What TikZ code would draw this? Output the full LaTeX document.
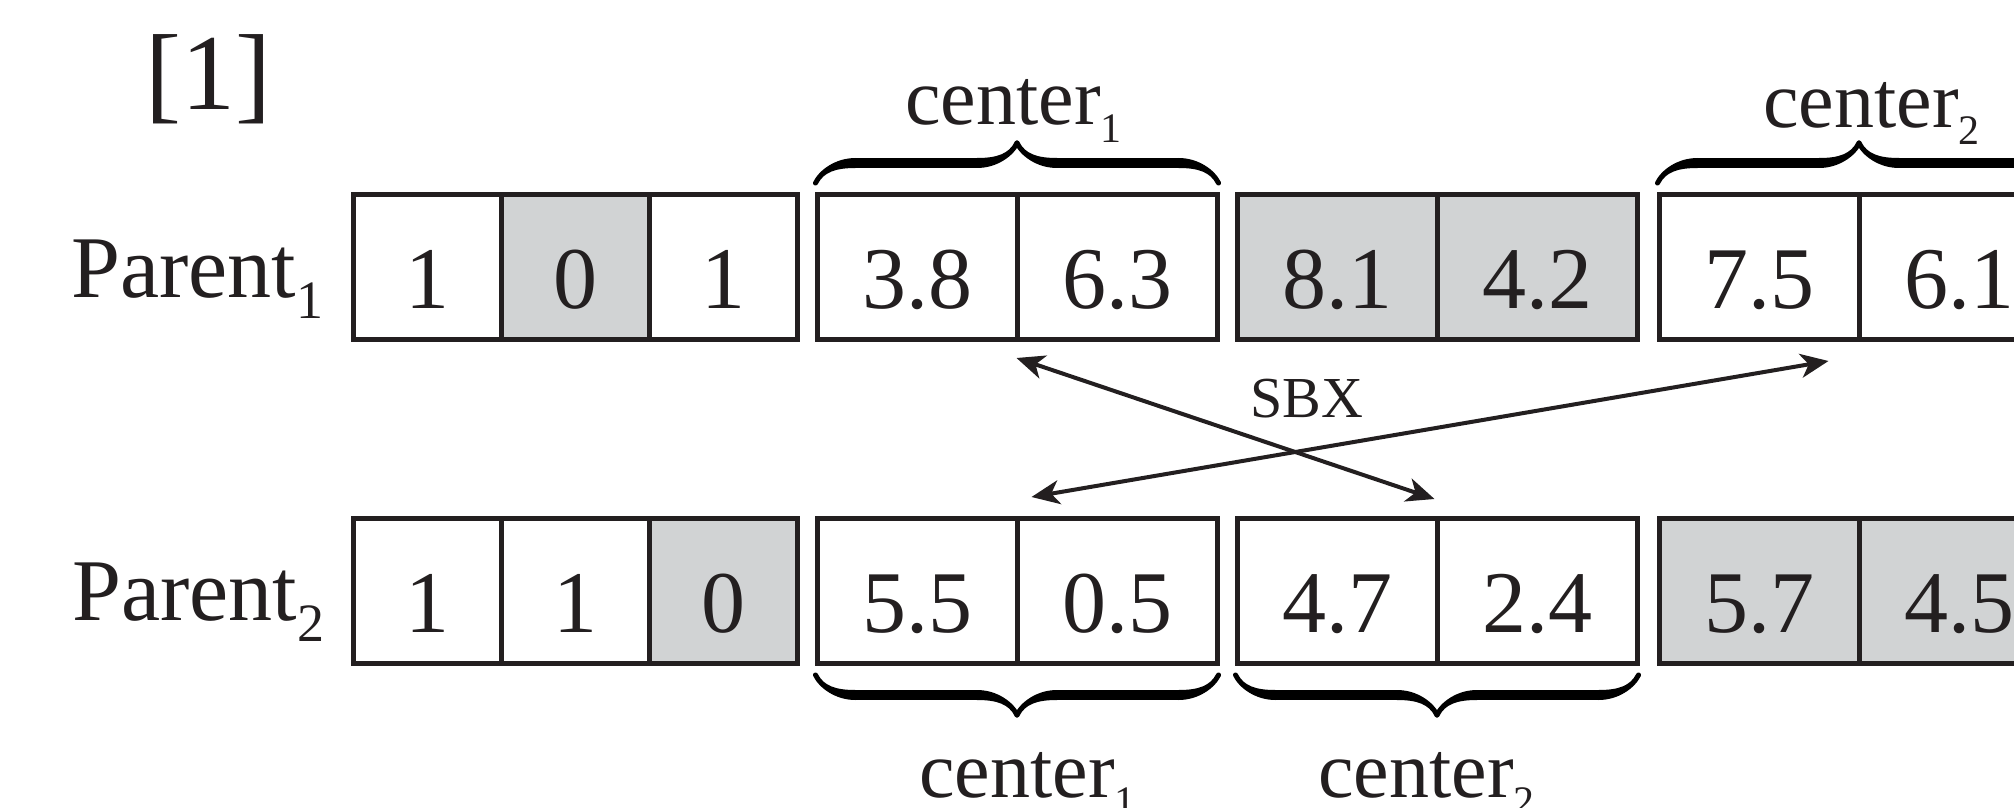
\documentclass[tikz,border=0pt]{standalone}
\usepackage{fontspec}
\setmainfont{Liberation Serif}
\usetikzlibrary{arrows.meta,calc,decorations.pathreplacing,calligraphy}
\definecolor{ink}{HTML}{231F20}
\definecolor{cellgray}{HTML}{D1D3D4}
\newcommand\lowsub[3]{\raisebox{-#2}{\fontsize{#1}{#1}\selectfont #3}}
\begin{document}
\begin{tikzpicture}[x=0.5pt,y=-0.5pt,
  cell/.style={draw=ink, line width=2.5pt, minimum height=72.5pt, inner sep=0pt,
    text height=41pt, text depth=0pt, font=\fontsize{44}{44}\selectfont, text=ink},
  bin/.style={cell, minimum width=74pt},
  real/.style={cell, minimum width=100pt},
  gr/.style={fill=cellgray},
  lab/.style={anchor=base west, inner sep=0pt, text=ink},
  parlab/.style={lab, font=\fontsize{44}{44}\selectfont},
  cenlab/.style={lab, font=\fontsize{40}{40}\selectfont},
  brc/.style={decorate, decoration={calligraphic brace, amplitude=20pt}, line width=5pt, draw=ink},
  xarrow/.style={{Stealth[length=14pt,width=12pt,inset=4pt]}-{Stealth[length=14pt,width=12pt,inset=4pt]},
    line width=2pt, draw=ink}
]
\fill[white] (0,0) rectangle (2014,808);
\useasboundingbox (0,0) rectangle (2014,808);
\clip (0,0) rectangle (2014,808);

% reference mark
\node[lab, font=\fontsize{54}{54}\selectfont] (ref) at (145,110) {[1]};

% row labels
\node[parlab] (par1) at (71,297) {Parent\lowsub{27}{10.5pt}{1}};
\node[parlab] (par2) at (72,620) {Parent\lowsub{27}{10.5pt}{2}};

% Parent 1 cells
\node[bin] (p1a1) at (427,267) {1};
\node[bin,gr] (p1a2) at (575,267) {0};
\node[bin] (p1a3) at (723,267) {1};
\node[real] (p1b1) at (917,267) {3.8};
\node[real] (p1b2) at (1117,267) {6.3};
\node[real,gr] (p1c1) at (1337,267) {8.1};
\node[real,gr] (p1c2) at (1537,267) {4.2};
\node[real] (p1d1) at (1759,267) {7.5};
\node[real] (p1d2) at (1959,267) {6.1};

% Parent 2 cells
\node[bin] (p2a1) at (427,591) {1};
\node[bin] (p2a2) at (575,591) {1};
\node[bin,gr] (p2a3) at (723,591) {0};
\node[real] (p2b1) at (917,591) {5.5};
\node[real] (p2b2) at (1117,591) {0.5};
\node[real] (p2c1) at (1337,591) {4.7};
\node[real] (p2c2) at (1537,591) {2.4};
\node[real,gr] (p2d1) at (1759,591) {5.7};
\node[real,gr] (p2d2) at (1959,591) {4.5};

% braces
\draw[brc] ($(p1b1.north west)+(1,-9)$) -- ($(p1b2.north east)+(-1,-9)$);
\draw[brc] ($(p1d1.north west)+(1,-9)$) -- ($(p1d2.north east)+(-1,-9)$);
\draw[brc] ($(p2b2.south east)+(-1,9)$) -- ($(p2b1.south west)+(1,9)$);
\draw[brc] ($(p2c2.south east)+(-1,9)$) -- ($(p2c1.south west)+(1,9)$);

% brace labels
\node[cenlab] (c1t) at (905,125) {center\lowsub{21}{9pt}{1}};
\node[cenlab] (c2t) at (1763,127) {center\lowsub{21}{9pt}{2}};
\node[cenlab] (c1b) at (919,797) {center\lowsub{21}{9pt}{1}};
\node[cenlab] (c2b) at (1318,797) {center\lowsub{21}{9pt}{2}};

% SBX crossover arrows
\draw[xarrow] ($(p1b2.south west)+(2,16)$) -- ($(p2c2.north west)+(0,-17)$);
\draw[xarrow] ($(p2b2.north west)+(17,-19)$) -- ($(p1d2.south west)+(-28,19)$);
\node[anchor=base, inner sep=0pt, text=ink, font=\fontsize{29}{29}\selectfont] (sbx) at (1307,417) {SBX};
\end{tikzpicture}
\end{document}
